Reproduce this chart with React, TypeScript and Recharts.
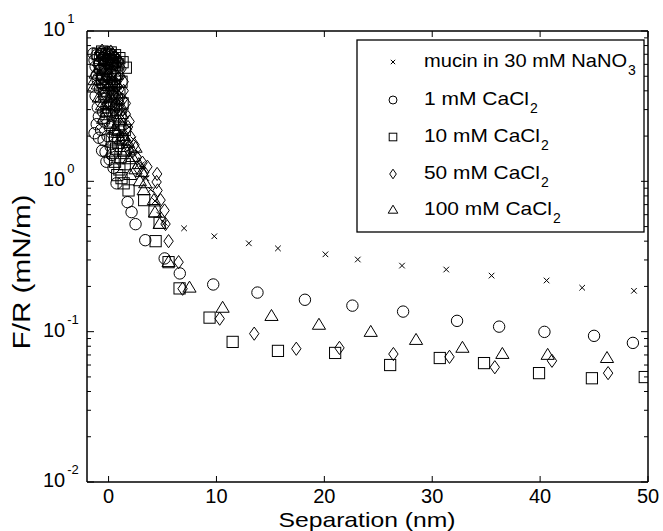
import React from 'react';
import { ScatterChart, Scatter, XAxis, YAxis, Customized } from 'recharts';

const FONT = "'Liberation Sans', Arial, Helvetica, sans-serif";

// [separation (nm), F/R (mN/m)]
const mucin: [number, number][] = [
  [-0.6, 7.2], [-0.2, 6.6], [0.2, 5.8], [0.5, 4.9], [0.8, 4.1], [1.1, 3.4], [1.5, 2.8], [1.9, 2.3],
  [2.3, 1.9], [2.7, 1.55], [3.1, 1.3], [3.5, 1.05], [3.9, 0.88], [4.3, 0.74], [4.7, 0.6], [5.2, 0.53],
  [7.0, 0.487], [9.8, 0.431], [13.0, 0.387], [15.7, 0.358], [20.1, 0.327], [23.1, 0.302],
  [27.2, 0.275], [31.3, 0.259], [35.5, 0.236], [40.6, 0.219], [43.9, 0.196], [48.7, 0.187],
];

const ca1: [number, number][] = [
  [-1.4, 7.1], [-1.1, 6.9], [-0.7, 7.2], [-0.3, 6.8], [0.1, 6.5], [0.5, 6.7], [0.8, 6.2],
  [-1.3, 6.4], [-0.9, 6.0], [-0.6, 6.6], [-0.1, 6.1], [0.3, 6.0],
  [-1.2, 5.8], [-0.8, 5.5], [-0.4, 5.9], [0.2, 5.3], [0.6, 5.0], [-1.0, 4.7], [-0.5, 4.4],
  [-1.1, 5.1], [-0.6, 4.9], [-0.2, 4.6], [0.3, 4.4], [-0.8, 4.1], [-0.3, 3.6], [0.1, 3.3],
  [0.0, 4.1], [0.4, 3.8], [-1.2, 3.7], [-0.7, 3.4], [-0.2, 3.1], [0.3, 2.9], [-0.9, 2.7],
  [-1.0, 3.1], [-0.5, 2.9], [-1.1, 2.4], [-0.7, 2.2], [-0.1, 2.0], [-0.9, 1.95], [0.2, 1.7],
  [-0.6, 1.6], [0.3, 1.5], [-0.2, 1.35],
  [-0.4, 2.5], [0.1, 2.3], [-1.3, 2.09], [-0.46, 1.88], [-0.28, 1.57], [0.1, 1.4], [0.46, 1.23],
  [0.74, 0.97], [1.76, 0.727], [2.13, 0.624], [2.5, 0.519], [3.4, 0.406], [5.2, 0.307],
  [6.6, 0.244], [9.7, 0.206], [13.8, 0.182], [18.2, 0.163], [22.6, 0.149], [27.3, 0.136],
  [32.3, 0.118], [36.2, 0.108], [40.4, 0.0997], [45.0, 0.0938], [48.6, 0.0842],
];

const ca10: [number, number][] = [
  [-1.0, 7.0], [-0.6, 7.3], [-0.2, 7.0], [0.2, 7.2], [0.6, 6.9], [1.0, 6.6], [1.6, 5.7],
  [-0.8, 6.6], [-0.4, 6.4], [0.0, 6.3], [0.4, 6.4], [0.9, 6.0], [1.3, 6.2],
  [-0.8, 6.0], [-0.3, 5.6], [0.3, 5.9], [0.8, 5.2], [-0.6, 4.8], [0.0, 4.6], [0.5, 4.3],
  [-0.5, 5.2], [0.1, 5.1], [0.6, 4.8], [1.2, 4.6], [-0.2, 4.2], [0.3, 3.9], [0.8, 3.5],
  [1.3, 3.3], [0.0, 3.1], [0.5, 3.2], [1.0, 2.4], [0.6, 2.0], [1.5, 2.2], [0.9, 1.8],
  [1.4, 1.6], [0.4, 1.55], [1.5, 1.3], [0.8, 1.1],
  [1.0, 3.9], [-0.4, 3.8], [0.2, 3.4], [0.7, 3.0], [1.1, 2.7], [-0.2, 2.8], [0.4, 2.5],
  [0.9, 2.2], [1.3, 1.9], [0.3, 1.9], [0.7, 1.65], [1.1, 1.45], [0.6, 1.35], [1.0, 1.2],
  [1.2, 1.05], [1.4, 0.97], [1.85, 0.87], [3.3, 0.75], [4.26, 0.63], [4.73, 0.53], [4.36, 0.4],
  [5.56, 0.29], [6.58, 0.194], [9.36, 0.124], [11.5, 0.0855], [15.7, 0.0745], [21.0, 0.0722],
  [26.1, 0.06], [30.7, 0.0668], [34.8, 0.0618], [39.9, 0.053], [44.8, 0.049], [49.7, 0.0499],
];

const ca50: [number, number][] = [
  [-0.6, 7.4], [-0.2, 7.1], [0.2, 7.3], [0.6, 6.8], [1.0, 6.3], [-0.4, 6.2], [0.1, 5.8],
  [-0.8, 7.0], [0.4, 7.0], [0.8, 6.5], [-0.1, 6.5], [0.3, 6.1], [0.7, 6.0], [1.2, 5.6],
  [-0.5, 5.5], [0.0, 5.2], [0.8, 4.8], [1.4, 4.6], [0.1, 4.3], [0.7, 4.2], [1.4, 4.0],
  [0.3, 3.9], [0.9, 3.7], [1.6, 3.3], [0.6, 3.2], [1.3, 3.0], [0.8, 2.6], [1.8, 2.3],
  [1.1, 2.0], [1.5, 1.9], [2.4, 1.75], [1.9, 1.6], [2.8, 1.2], [3.6, 1.25],
  [0.5, 5.4], [1.1, 5.0], [-0.2, 4.9], [0.4, 4.5], [1.0, 4.1], [1.3, 3.5], [0.6, 3.6],
  [1.0, 3.0], [1.6, 2.8], [1.95, 2.5], [1.3, 2.3], [2.04, 1.98], [1.7, 1.75], [2.2, 1.57],
  [2.6, 1.45], [3.15, 1.33], [3.3, 1.15], [4.5, 1.12], [4.45, 0.99], [4.54, 0.87], [4.82, 0.75],
  [5.19, 0.64], [5.28, 0.52], [5.56, 0.4], [6.49, 0.29], [6.86, 0.193], [10.3, 0.122],
  [13.5, 0.097], [17.4, 0.077], [21.4, 0.078], [26.4, 0.071], [31.6, 0.068], [35.8, 0.058],
  [41.1, 0.064], [46.3, 0.053],
];

const ca100: [number, number][] = [
  [-1.4, 4.2], [-1.2, 5.2], [-0.9, 6.3], [-0.5, 7.0], [0.0, 7.2], [0.4, 6.6], [-0.7, 5.0],
  [-1.3, 4.7], [-1.0, 4.4], [-0.8, 5.7], [-0.3, 6.4], [0.3, 6.9], [0.7, 6.2], [-0.5, 4.5],
  [0.0, 4.3], [0.6, 4.4], [-0.6, 3.2], [0.0, 3.2], [0.5, 3.2], [-0.5, 2.6], [0.2, 2.4],
  [1.2, 2.8], [0.5, 2.2], [1.1, 1.9], [1.6, 1.6], [1.9, 1.4], [2.5, 1.2], [2.0, 1.1], [2.9, 1.0],
  [-0.2, 5.6], [0.3, 4.9], [-0.9, 3.6], [-0.4, 3.9], [0.2, 3.6], [0.9, 3.5], [-0.2, 2.9],
  [0.5, 2.7], [1.0, 2.5], [0.8, 2.1], [1.4, 2.0], [1.8, 1.8], [2.5, 1.67], [2.2, 1.45],
  [2.8, 1.3], [3.1, 1.15], [3.4, 0.97], [3.25, 0.87], [4.2, 0.75], [4.3, 0.62], [4.73, 0.52],
  [5.56, 0.29], [7.5, 0.196], [10.57, 0.144], [15.1, 0.127], [19.5, 0.111], [24.3, 0.0995],
  [28.5, 0.088], [32.8, 0.078], [36.5, 0.071], [40.7, 0.07], [46.2, 0.0667],
];

const X_TICKS = [0, 10, 20, 30, 40, 50];
const Y_MAJOR = [0.01, 0.1, 1, 10];
const Y_TICKS = [
  0.01, 0.02, 0.03, 0.04, 0.05, 0.06, 0.07, 0.08, 0.09,
  0.1, 0.2, 0.3, 0.4, 0.5, 0.6, 0.7, 0.8, 0.9,
  1, 2, 3, 4, 5, 6, 7, 8, 9, 10,
];

const LEGEND = [
  { main: 'mucin in 30 mM NaNO', sub: '3', len: 203 },
  { main: '1 mM CaCl', sub: '2', len: 105 },
  { main: '10 mM CaCl', sub: '2', len: 116 },
  { main: '50 mM CaCl', sub: '2', len: 116 },
  { main: '100 mM CaCl', sub: '2', len: 128 },
];

const toXY = (arr: [number, number][]) => arr.map(([x, y]) => ({ x, y }));

const S = { stroke: '#000', strokeWidth: 1, fill: 'none' };

const crossPath = (cx: number, cy: number, s: number) => (
  <path d={`M${cx - s},${cy - s}L${cx + s},${cy + s}M${cx - s},${cy + s}L${cx + s},${cy - s}`} {...S} />
);
const circlePath = (cx: number, cy: number, r: number) => <circle cx={cx} cy={cy} r={r} {...S} />;
const squarePath = (cx: number, cy: number, h: number) => (
  <rect x={cx - h} y={cy - h} width={2 * h} height={2 * h} {...S} />
);
const diamondPath = (cx: number, cy: number, w: number, h: number) => (
  <path d={`M${cx},${cy - h}L${cx + w},${cy}L${cx},${cy + h}L${cx - w},${cy}Z`} {...S} />
);
const trianglePath = (cx: number, cy: number, w: number, h: number) => (
  <path d={`M${cx},${cy - h * 0.6}L${cx + w},${cy + h * 0.4}L${cx - w},${cy + h * 0.4}Z`} {...S} />
);

const CrossShape = (p: any) => crossPath(p.cx, p.cy, 2.8);
const CircleShape = (p: any) => circlePath(p.cx, p.cy, 5.7);
const SquareShape = (p: any) => squarePath(p.cx, p.cy, 5.6);
const DiamondShape = (p: any) => diamondPath(p.cx, p.cy, 4.7, 6.6);
const TriangleShape = (p: any) => trianglePath(p.cx, p.cy, 6.6, 11);

const BottomTick = (p: any) => {
  const { x, y, payload } = p;
  return (
    <g>
      <line x1={x} x2={x} y1={y} y2={y - 6} stroke="#000" strokeWidth={1} />
      <text x={x} y={y + 21} textAnchor="middle" fontSize={20} fontFamily={FONT} fill="#000">
        {payload.value}
      </text>
    </g>
  );
};

const TopTick = (p: any) => {
  const { x, y } = p;
  return <line x1={x} x2={x} y1={y} y2={y + 6} stroke="#000" strokeWidth={1} />;
};

const LeftTick = (p: any) => {
  const { x, y, payload } = p;
  const v = payload.value;
  const major = Y_MAJOR.includes(v);
  const len = major ? 7 : 4;
  const exp = Math.round(Math.log10(v));
  return (
    <g>
      <line x1={x} x2={x + len} y1={y} y2={y} stroke="#000" strokeWidth={1} />
      {major && (
        <text x={x - 44} y={y + 5} fontSize={20} fontFamily={FONT} fill="#000">
          10
          <tspan dx={2} dy={-13} fontSize={13}>
            {exp}
          </tspan>
        </text>
      )}
    </g>
  );
};

const RightTick = (p: any) => {
  const { x, y, payload } = p;
  const major = Y_MAJOR.includes(payload.value);
  const len = major ? 7 : 4;
  return <line x1={x} x2={x - len} y1={y} y2={y} stroke="#000" strokeWidth={1} />;
};

const legendMarkers = [
  (cx: number, cy: number) => crossPath(cx, cy, 2.2),
  (cx: number, cy: number) => circlePath(cx, cy, 4),
  (cx: number, cy: number) => squarePath(cx, cy, 3.8),
  (cx: number, cy: number) => diamondPath(cx, cy, 3.3, 4.8),
  (cx: number, cy: number) => trianglePath(cx, cy, 4.8, 8),
];

const Overlay = () => {
  const rows = [62, 100, 137, 174, 210];
  return (
    <g>
      <rect x={357} y={40} width={287} height={192} fill="#fff" stroke="#000" strokeWidth={1.3} />
      {LEGEND.map((e, i) => (
        <g key={i}>
          {legendMarkers[i](393, rows[i])}
          <text
            x={424}
            y={rows[i] + 5}
            fontSize={18.5}
            fontFamily={FONT}
            fill="#000"
            textLength={e.len}
            lengthAdjust="spacingAndGlyphs"
          >
            {e.main}
          </text>
          <text x={424 + e.len + 1} y={rows[i] + 13} fontSize={14} fontFamily={FONT} fill="#000">
            {e.sub}
          </text>
        </g>
      ))}
      <text
        x={367}
        y={527}
        textAnchor="middle"
        fontSize={21}
        fontFamily={FONT}
        fill="#000"
        textLength={177}
        lengthAdjust="spacingAndGlyphs"
      >
        Separation (nm)
      </text>
      <text
        x={0}
        y={0}
        transform="translate(30,272) rotate(-90)"
        textAnchor="middle"
        fontSize={23}
        fontFamily={FONT}
        fill="#000"
        textLength={155}
        lengthAdjust="spacingAndGlyphs"
      >
        F/R (mN/m)
      </text>
    </g>
  );
};

const axisLine = { stroke: '#000', strokeWidth: 1.5 };

export default function App() {
  return (
    <div style={{ position: 'absolute', left: 0, top: 0, background: '#fff' }}>
      <ScatterChart width={663} height={531} margin={{ top: 30, right: 14, bottom: 9, left: 17 }}>
        <XAxis
          xAxisId="b"
          type="number"
          dataKey="x"
          domain={[-2, 50]}
          ticks={X_TICKS}
          interval={0}
          allowDataOverflow
          height={40}
          tickSize={0}
          tickMargin={0}
          tickLine={false}
          axisLine={axisLine}
          tick={<BottomTick />}
        />
        <XAxis
          xAxisId="t"
          orientation="top"
          type="number"
          dataKey="x"
          domain={[-2, 50]}
          ticks={X_TICKS}
          interval={0}
          allowDataOverflow
          height={1}
          tickSize={0}
          tickMargin={0}
          tickLine={false}
          axisLine={axisLine}
          tick={<TopTick />}
        />
        <YAxis
          yAxisId="l"
          type="number"
          dataKey="y"
          scale="log"
          domain={[0.01, 10]}
          ticks={Y_TICKS}
          interval={0}
          allowDataOverflow
          width={70}
          tickSize={0}
          tickMargin={0}
          tickLine={false}
          axisLine={axisLine}
          tick={<LeftTick />}
        />
        <YAxis
          yAxisId="r"
          orientation="right"
          type="number"
          dataKey="y"
          scale="log"
          domain={[0.01, 10]}
          ticks={Y_TICKS}
          interval={0}
          allowDataOverflow
          width={1}
          tickSize={0}
          tickMargin={0}
          tickLine={false}
          axisLine={axisLine}
          tick={<RightTick />}
        />
        <Scatter name="mucin in 30 mM NaNO3" data={toXY(mucin)} xAxisId="b" yAxisId="l" shape={CrossShape} isAnimationActive={false} />
        <Scatter name="1 mM CaCl2" data={toXY(ca1)} xAxisId="b" yAxisId="l" shape={CircleShape} isAnimationActive={false} />
        <Scatter name="10 mM CaCl2" data={toXY(ca10)} xAxisId="b" yAxisId="l" shape={SquareShape} isAnimationActive={false} />
        <Scatter name="50 mM CaCl2" data={toXY(ca50)} xAxisId="b" yAxisId="l" shape={DiamondShape} isAnimationActive={false} />
        <Scatter name="100 mM CaCl2" data={toXY(ca100)} xAxisId="b" yAxisId="l" shape={TriangleShape} isAnimationActive={false} />
        <Customized component={Overlay} />
      </ScatterChart>
    </div>
  );
}
